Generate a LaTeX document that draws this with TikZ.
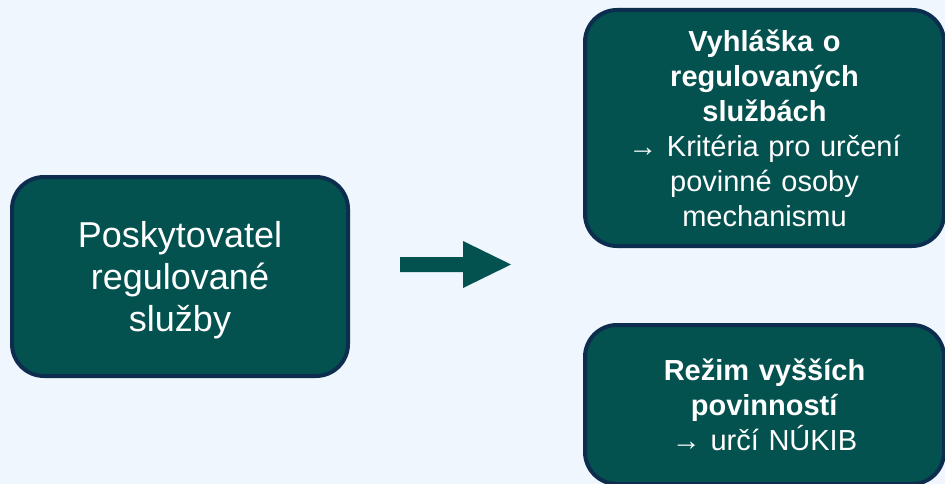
\documentclass[tikz,border=0pt]{standalone}
\usepackage{fontspec}
\setmainfont{Liberation Sans}
\definecolor{bgcol}{HTML}{EFF6FD}
\definecolor{boxfill}{HTML}{03524F}
\definecolor{boxline}{HTML}{0C2D4E}
\begin{document}
\begin{tikzpicture}[x=1pt,y=-1pt,
  box/.style={draw=boxline, line width=4pt, fill=boxfill, rounded corners=32pt,
    text=white, align=center, inner sep=0pt},
  bigtext/.style={font=\fontsize{36}{42}\selectfont},
  smalltext/.style={font=\fontsize{29}{35}\selectfont}]
\fill[bgcol] (0,0) rectangle (945,484);
\useasboundingbox (0,0) rectangle (945,484);
\node[box, minimum width=336pt, minimum height=199pt] (src) at (180,276.5) {};
\node[bigtext, text=white, align=center, text width=300pt, inner sep=0pt] (srctext) at (180,280)
  {Poskytovatel\\regulované\\služby};
\node[box, smalltext, minimum width=359pt, minimum height=236pt, text width=330pt] (vyhl) at (764.5,128)
  {\textbf{Vyhláška o}\\\textbf{regulovaných}\\\textbf{službách}\\→ Kritéria pro určení\\povinné osoby\\mechanismu};
\node[box, smalltext, minimum width=359pt, minimum height=159pt, text width=330pt] (rezim) at (764.5,404.5)
  {\textbf{Režim vyšších}\\\textbf{povinností}\\→ určí NÚKIB};
\fill[boxfill] (400,257) -- (463,257) -- (463,241) -- (511,264.5) -- (463,288) -- (463,272) -- (400,272) -- cycle;
\end{tikzpicture}
\end{document}
